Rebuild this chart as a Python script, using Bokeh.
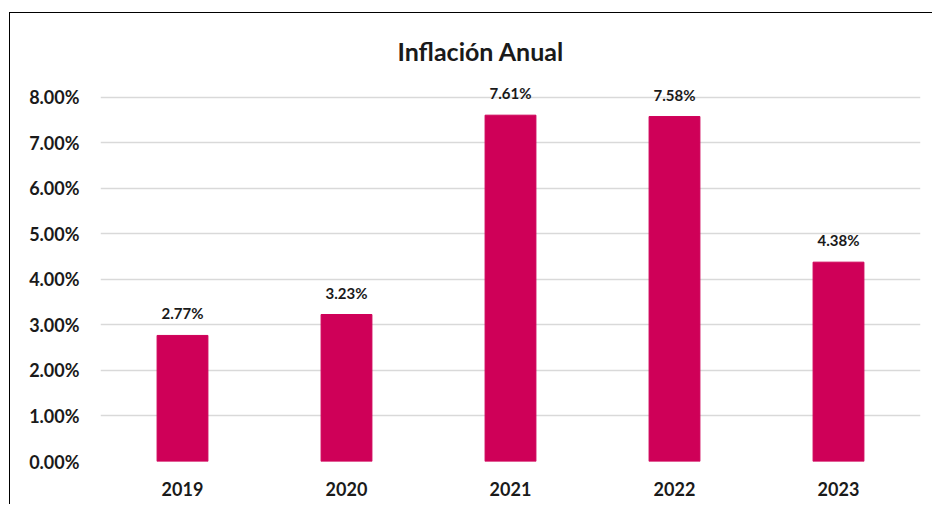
from bokeh.plotting import figure
from bokeh.models import (ColumnDataSource, FactorRange, Range1d, FixedTicker,
                          NumeralTickFormatter, InlineStyleSheet)
from bokeh.core.properties import value
from bokeh.embed import file_html
from bokeh.resources import INLINE

# ---- data ----
years = ["2019", "2020", "2021", "2022", "2023"]
inflation = [0.0277, 0.0323, 0.0761, 0.0758, 0.0438]
labels = [f"{v*100:.2f}%" for v in inflation]
y_ticks = [0.0, 0.01, 0.02, 0.03, 0.04, 0.05, 0.06, 0.07, 0.08]
title_text = "Inflación Anual"

FONT = "Lato"
BAR = "#CF0058"
TXT = "#1a1a1a"

src = ColumnDataSource(dict(x=years, y=inflation, lab=labels))

p = figure(x_range=FactorRange(*years, range_padding=0),
           y_range=Range1d(0, 0.0835),
           width=932, height=504, output_backend="svg", toolbar_location=None,
           min_border_left=100, min_border_right=12, min_border_top=81,
           min_border_bottom=43)
p.outline_line_color = None
p.background_fill_color = "white"
p.border_fill_color = "white"

p.vbar(x="x", top="y", width=0.31, source=src, color=BAR)
p.text(x="x", y="y", text="lab", source=src, text_align="center",
       text_baseline="middle", y_offset=-22, text_font=value(FONT),
       text_font_style="bold", text_font_size="15px", text_color=TXT)

# axes
p.yaxis.ticker = FixedTicker(ticks=y_ticks)
p.yaxis.formatter = NumeralTickFormatter(format="0.00%")
for ax in (p.xaxis, p.yaxis):
    ax.axis_line_color = None
    ax.major_tick_line_color = None
    ax.minor_tick_line_color = None
    ax.major_label_text_font = FONT
    ax.major_label_text_font_style = "bold"
    ax.major_label_text_font_size = "18px"
    ax.major_label_text_color = TXT
p.yaxis.major_label_standoff = 15
p.xaxis.major_label_standoff = 14

p.xgrid.grid_line_color = None
p.ygrid.grid_line_color = "#d9d9d9"
p.ygrid.grid_line_width = 1.5

# title
p.title.text = title_text
p.title.align = "left"
p.title.offset = 297
p.title.standoff = 32
p.title.text_font = FONT
p.title.text_font_style = "bold"
p.title.text_font_size = "25px"
p.title.text_color = TXT

# outer chart border (cropped by the picture) as a CSS overlay
p.stylesheets = [InlineStyleSheet(css="""
:host { position: relative; }
:host::after {
  content: ""; position: absolute; left: 9px; top: 12px; right: 0; bottom: 0;
  border-left: 1.5px solid #000; border-top: 1.5px solid #000;
  pointer-events: none;
}
""")]

open("out.html", "w").write(file_html(p, INLINE))
